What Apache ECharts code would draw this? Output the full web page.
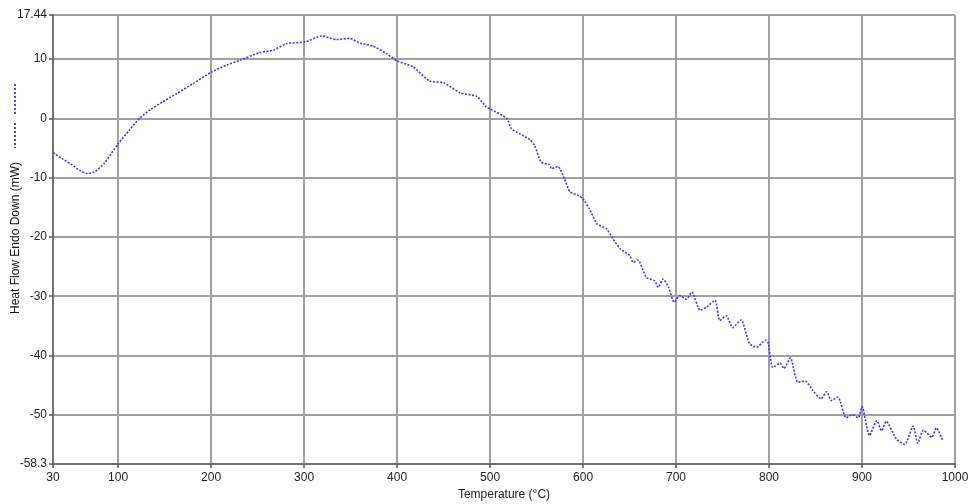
<!DOCTYPE html>
<html>
<head>
<meta charset="utf-8">
<script src="https://cdn.jsdelivr.net/npm/echarts@6/dist/echarts.min.js"></script>
<style>
html,body{margin:0;padding:0;background:#fff;}
#chart{width:969px;height:504px;}
</style>
</head>
<body>
<div id="chart"></div>
<script>
const temperature = [30,40,50,60,67,75,85,100,112,123,134,148,163,181,200,217,231,252,267,281,301,319,335,349,360,374,389,400,417,435,450,468,486,496,500,518,523,532,543,548,555,564,566,573,580,586,595,600,607,615,625,632,640,650,654,659,668,677,681,686,692,698,704,711,717,726,733,742,747,754,761,770,779,787,796,799,804,812,816,823,831,839,847,856,862,867,874,883,890,896,900,908,916,921,926,937,946,955,960,966,975,980,987];
const heatFlow = [-5.8,-6.8,-7.8,-8.9,-9.3,-9.0,-7.6,-4.3,-2.0,0.0,1.4,2.8,4.2,5.9,7.8,9.0,9.8,11.1,11.5,12.6,12.9,13.9,13.3,13.5,12.7,12.2,10.9,9.7,8.7,6.3,6.0,4.3,3.7,1.9,1.6,0.0,-1.75,-2.6,-3.6,-4.6,-7.4,-7.8,-8.5,-8.1,-10.2,-12.4,-13.0,-13.6,-15.3,-17.8,-18.6,-20.3,-22.0,-23.1,-24.3,-23.9,-26.8,-27.4,-28.5,-27.1,-28.5,-31.0,-29.9,-30.5,-29.3,-32.4,-31.8,-30.7,-34.1,-33.3,-35.3,-34.0,-38.0,-38.6,-37.4,-37.8,-42.0,-41.3,-42.2,-40.4,-44.5,-44.3,-45.9,-47.3,-46.1,-47.6,-47.0,-50.5,-50.0,-50.5,-48.6,-53.5,-51.0,-52.7,-51.1,-54.1,-55.0,-51.9,-54.8,-52.6,-53.8,-52.2,-54.4];
const xTicks = [30,100,200,300,400,500,600,700,800,900,1000];
const yTicks = [-58.3,-50,-40,-30,-20,-10,0,10,17.44];
const xTitle = 'Temperature (°C)';
const yTitle = 'Heat Flow Endo Down (mW)';

const chart = echarts.init(document.getElementById('chart'));
const font = 'Liberation Sans, Arial, sans-serif';
const gridLine = {show:true, lineStyle:{color:'#a0a0a0', width:2}};
chart.setOption({
  animation:false,
  backgroundColor:'#fff',
  grid:{left:53, right:14, top:15, bottom:40, containLabel:false, outerBoundsMode:'none'},
  xAxis:{
    type:'value', min:30, max:1000,
    name:xTitle, nameLocation:'middle', nameGap:22,
    nameTextStyle:{fontFamily:font, fontSize:12, color:'#222'},
    axisLine:{show:true, onZero:false, lineStyle:{color:'#707070', width:2}},
    axisTick:{show:true, length:4, lineStyle:{color:'#555', width:1.5}, customValues:xTicks},
    axisLabel:{fontFamily:font, fontSize:12, color:'#222', margin:8, customValues:xTicks, formatter:v=>String(v)},
    splitLine:gridLine
  },
  yAxis:{
    type:'value', min:-58.3, max:17.44,
    axisLine:{show:true, onZero:false, lineStyle:{color:'#707070', width:2}},
    axisTick:{show:true, length:4, lineStyle:{color:'#555', width:1.5}, customValues:yTicks},
    axisLabel:{fontFamily:font, fontSize:12, color:'#222', margin:6, customValues:yTicks, formatter:v=>String(v)},
    splitLine:gridLine
  },
  graphic:[
    {type:'text', x:16, y:238, rotation:Math.PI/2,
     style:{text:yTitle, fontFamily:font, fontSize:12, fill:'#111', align:'center', verticalAlign:'middle'}},
    {type:'line', shape:{x1:15, y1:84, x2:15, y2:114}, style:{stroke:'#4a4aff', lineWidth:2, lineDash:[2,2]}},
    {type:'line', shape:{x1:15, y1:123, x2:15, y2:148}, style:{stroke:'#555', lineWidth:2, lineDash:[2,2]}}
  ],
  series:[{
    type:'line',
    data: temperature.map((t,i)=>[t, heatFlow[i]]),
    showSymbol:false,
    smooth:0.2,
    lineStyle:{color:'#3535ff', width:1.6, type:[2,1.5]}
  }]
});
</script>
</body>
</html>
